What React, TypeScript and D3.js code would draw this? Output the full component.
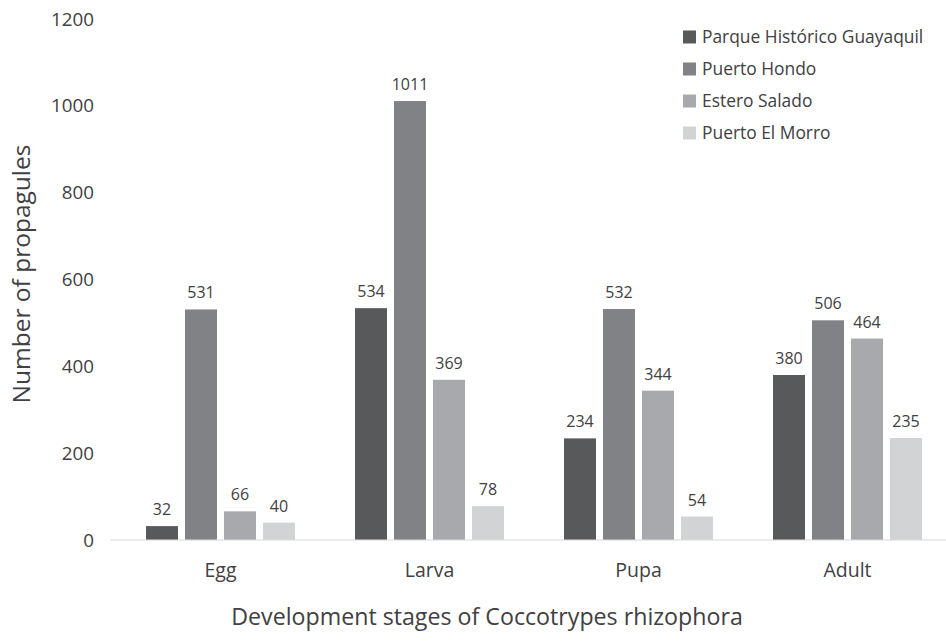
import React from "react";
import * as d3 from "d3";

const categories = ["Egg", "Larva", "Pupa", "Adult"];
const seriesNames = [
  "Parque Histórico Guayaquil",
  "Puerto Hondo",
  "Estero Salado",
  "Puerto El Morro",
];
const parqueValues = [32, 534, 234, 380];
const hondoValues = [531, 1011, 532, 506];
const esteroValues = [66, 369, 344, 464];
const morroValues = [40, 78, 54, 235];
const yTicks = [0, 200, 400, 600, 800, 1000, 1200];
const colors = ["#58595b", "#808285", "#a7a9ac", "#d1d3d4"];

const W = 946;
const H = 642;
const FONT = "'Open Sans', sans-serif";
const TEXT = "#414042";

export default function App() {
  const seriesValues = [parqueValues, hondoValues, esteroValues, morroValues];
  const y = d3.scaleLinear().domain([0, 1200]).range([540, 19]);
  const x0 = d3.scaleBand<string>().domain(categories).range([116, 952]).paddingInner(0).paddingOuter(0);
  const x1 = d3
    .scaleBand<string>()
    .domain(seriesNames)
    .range([0, x0.bandwidth()])
    .paddingInner(7 / 39)
    .paddingOuter(0.769);

  return (
    <svg width={W} height={H} style={{ display: "block", position: "absolute", left: 0, top: 0 }} fontFamily={FONT}>
      <rect width={W} height={H} fill="#ffffff" />
      {yTicks.map((t) => (
        <text key={t} x={94} y={y(t)} dy="0.35em" textAnchor="end" fontSize={18.8} fill={TEXT}>
          {t}
        </text>
      ))}
      {categories.map((c, ci) => (
        <g key={c} transform={`translate(${x0(c)},0)`}>
          {seriesNames.map((s, si) => {
            const v = seriesValues[si][ci];
            const bx = x1(s)!;
            return (
              <g key={s}>
                <rect x={bx} y={y(v)} width={x1.bandwidth()} height={y(0) - y(v)} fill={colors[si]} />
                <text
                  x={bx + x1.bandwidth() / 2}
                  y={y(v) - 11}
                  textAnchor="middle"
                  fontSize={16}
                  fill={TEXT}
                >
                  {v}
                </text>
              </g>
            );
          })}
        </g>
      ))}
      <line x1={110} x2={W} y1={y(0)} y2={y(0)} stroke="#d9d9d9" strokeWidth={1} />
      {categories.map((c) => (
        <text key={c} x={x0(c)! + x0.bandwidth() / 2} y={570.5} dy="0.35em" textAnchor="middle" fontSize={19.5} fill={TEXT}>
          {c}
        </text>
      ))}
      <text x={487} y={617} dy="0.35em" textAnchor="middle" fontSize={23.2} fill={TEXT}>
        Development stages of Coccotrypes rhizophora
      </text>
      <text
        transform={`translate(21,274) rotate(-90)`}
        dy="0.35em"
        textAnchor="middle"
        fontSize={24.5}
        fill={TEXT}
      >
        Number of propagules
      </text>
      {seriesNames.map((s, i) => (
        <g key={s} transform={`translate(683,${37 + i * 32})`}>
          <rect x={0} y={-6.5} width={13} height={13} fill={colors[i]} />
          <text x={19} y={0} dy="0.35em" fontSize={17.4} fill={TEXT}>
            {s}
          </text>
        </g>
      ))}
    </svg>
  );
}
